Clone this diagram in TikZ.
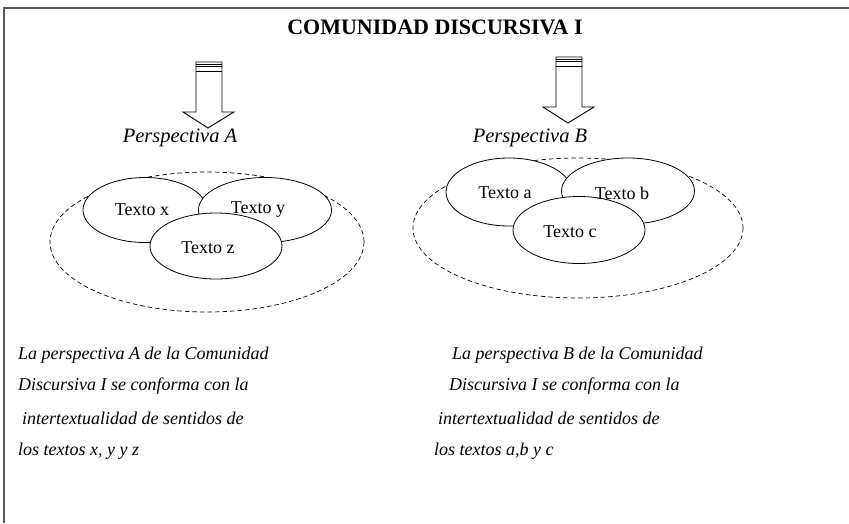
\documentclass[tikz,border=0pt]{standalone}
\usepackage{fontspec}
\setmainfont{Liberation Serif}
\usetikzlibrary{shapes.geometric}
\begin{document}
\begin{tikzpicture}[x=1pt,y=-1pt,
  frameline/.style={draw=black!65,line width=1.2pt},
  textell/.style={ellipse,draw,fill=white,line width=0.8pt,inner sep=0pt},
  groupell/.style={draw,line width=0.7pt,dash pattern=on 4.5pt off 3pt},
  ellabel/.style={font=\fontsize{18}{18}\selectfont,inner sep=0pt},
  persp/.style={font=\itshape\fontsize{20.5}{20.5}\selectfont,inner sep=0pt},
  bodytext/.style={font=\itshape\fontsize{18}{18}\selectfont,inner sep=0pt,anchor=west},
  arrowdown/.pic={
    \draw[line width=0.9pt,fill=white,line join=miter]
      (-13,0) -- (-13,50) -- (-26,50) -- (-1,66) -- (25,50) -- (13,50) -- (13,0) -- cycle;
    \draw[line width=0.9pt] (-13,2.4) -- (13,2.4) (-13,4.8) -- (13,4.8) (-13,9) -- (13,9);
  }]
\useasboundingbox (0,0) rectangle (849,523);
\fill[white] (0,0) rectangle (849,523);
% frame
\coordinate (fl) at (4,523);
\coordinate (ft) at (4,8);
\coordinate (fr) at (849,8);
\draw[frameline] (fl) -- (ft) -- (fr);
% title
\node[font=\bfseries\fontsize{22}{22}\selectfont,inner sep=0pt] (title) at (435,27) {COMUNIDAD DISCURSIVA I};
% arrows
\pic at (209,62) {arrowdown};
\pic at (569,57) {arrowdown};
% perspectives
\node[persp] (pa) at (180,138) {Perspectiva A};
\node[persp] (pb) at (530,138) {Perspectiva B};
% group A
\draw[groupell] (207,242) ellipse [x radius=157, y radius=70];
\node[textell,minimum width=124pt,minimum height=65pt] (ex) at (145,210) {};
\node[textell,minimum width=133pt,minimum height=65pt] (ey) at (265,210) {};
\node[textell,minimum width=132pt,minimum height=66pt] (ez) at (216,246) {};
\node[ellabel] (lx) at (142,210) {Texto x};
\node[ellabel] (ly) at (258,210) {Texto y};
\node[ellabel] (lz) at (208,248) {Texto z};
% group B
\draw[groupell] (578,228) ellipse [x radius=165, y radius=70];
\node[textell,minimum width=126pt,minimum height=68pt] (ea) at (509,192) {};
\node[textell,minimum width=133pt,minimum height=66pt] (eb) at (628,191) {};
\node[textell,minimum width=132pt,minimum height=67pt] (ec) at (579,230) {};
\node[ellabel] (la) at (505,193) {Texto a};
\node[ellabel] (lb) at (622,193) {Texto b};
\node[ellabel] (lc) at (570,232) {Texto c};
% body texts
\node[bodytext] (a1) at (18,355) {La perspectiva A de la Comunidad};
\node[bodytext] (a2) at (18,386) {Discursiva I se conforma con la};
\node[bodytext] (a3) at (22,418) {intertextualidad de sentidos de};
\node[bodytext] (a4) at (18,451) {los textos x, y y z};
\node[bodytext] (b1) at (452,355) {La perspectiva B de la Comunidad};
\node[bodytext] (b2) at (449,386) {Discursiva I se conforma con la};
\node[bodytext] (b3) at (438,418) {intertextualidad de sentidos de};
\node[bodytext] (b4) at (434,451) {los textos a,b y c};
\end{tikzpicture}
\end{document}
